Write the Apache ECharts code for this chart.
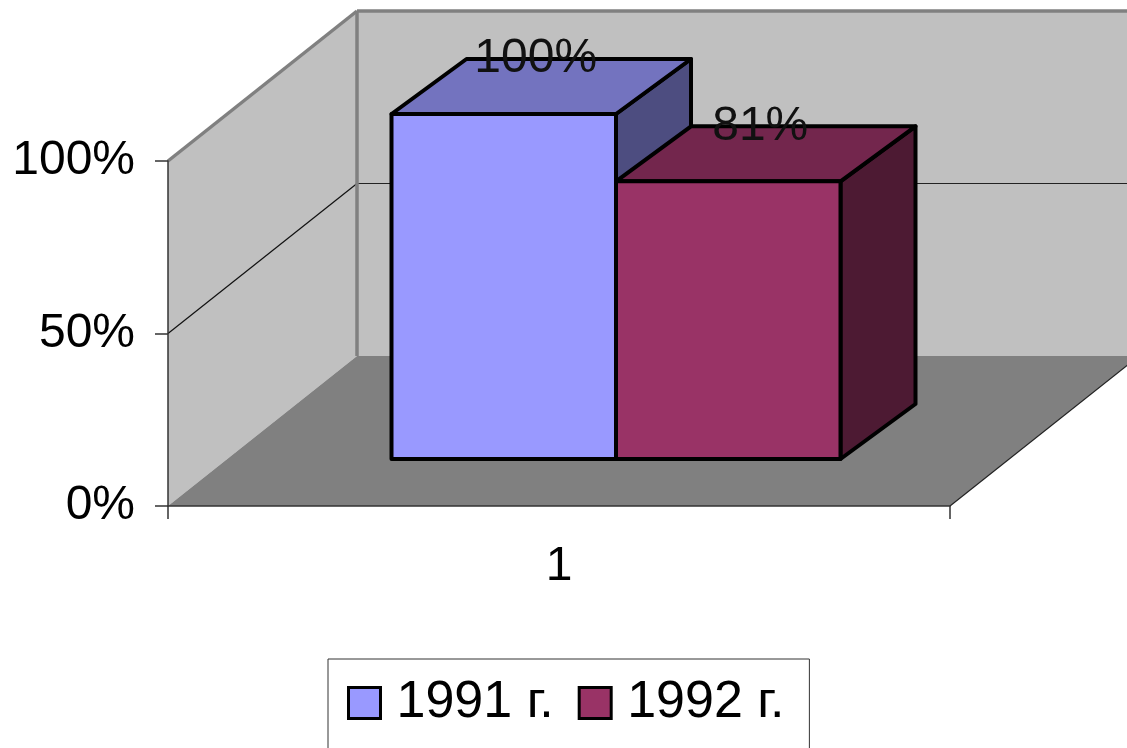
<!DOCTYPE html>
<html><head><meta charset="utf-8">
<style>html,body{margin:0;padding:0;background:#fff;overflow:hidden}#c{width:1127px;height:748px}</style>
<script src="https://cdn.jsdelivr.net/npm/echarts@6/dist/echarts.min.js"></script>
</head><body><div id="c"></div>
<script>
const categories = ['1'];
const seriesNames = ['1991 г.', '1992 г.'];
const values1991 = [100];
const values1992 = [80.5];
const yTicks = [0, 50, 100];

const FONT = '"Liberation Sans"';
const FS = 48;
const wallDepth = [189, -150];
const barDepth = [75, -55];
const barLift = [57, -47];
const barW = 224.5;
const pct = v => Math.round(v) + '%';

function poly(points, fill, stroke, lw, z2) {
  return {type:'polygon', shape:{points}, z2:z2||0,
    style:{fill, stroke:stroke||null, lineWidth:lw||0, lineJoin:'round'}};
}
function line(a, b, stroke, lw, z2) {
  return {type:'line', shape:{x1:a[0],y1:a[1],x2:b[0],y2:b[1]}, z2:z2||1, style:{stroke, lineWidth:lw}};
}
function renderWalls(params, api) {
  const cs = params.coordSys;
  const [dx, dy] = wallDepth;
  const L = cs.x, R = cs.x + cs.width;
  const y0 = api.coord([0, 0])[1], yT = api.coord([0, 100])[1];
  const children = [
    poly([[L+dx,yT+dy],[R+dx,yT+dy],[R+dx,y0+dy],[L+dx,y0+dy]], '#c0c0c0'),
    poly([[L,yT],[L+dx,yT+dy],[L+dx,y0+dy],[L,y0]], '#c0c0c0'),
    poly([[L,y0],[L+dx,y0+dy],[R+dx,y0+dy],[R,y0]], '#808080'),
    line([R,y0],[R+dx,y0+dy],'#222',1.2,1)
  ];
  yTicks.filter(t => t > 0 && t < 100).forEach(t => {
    const y = Math.round(api.coord([0, t])[1]) - 0.5;
    children.push(line([L,y],[L+dx,y+dy],'#111',1.2,1));
    children.push(line([L+dx,y+dy],[R+dx,y+dy],'#222',1.2,1));
  });
  children.push(line([L+dx,yT+dy],[L+dx,y0+dy],'#808080',3.5,2));
  children.push(line([L+dx,yT+dy],[R+dx,yT+dy],'#808080',3.5,2));
  children.push(line([L,yT],[L+dx,yT+dy],'#808080',3.5,2));
  return {type:'group', children};
}
function barRenderer(slot, front, top, side) {
  return function (params, api) {
    const base = api.coord([api.value(0), 0]);
    const head = api.coord([api.value(0), api.value(1)]);
    const [lx, ly] = barLift, [dx, dy] = barDepth;
    const x0 = base[0] + lx + (slot - 1) * barW, x1 = x0 + barW;
    const yb = base[1] + ly, yt = head[1] + ly;
    const S = '#000', W = 4;
    return {type:'group', children:[
      poly([[x1,yt],[x1+dx,yt+dy],[x1+dx,yb+dy],[x1,yb]], side, S, W, 1),
      poly([[x0,yt],[x0+dx,yt+dy],[x1+dx,yt+dy],[x1,yt]], top, S, W, 2),
      poly([[x0,yt],[x1,yt],[x1,yb],[x0,yb]], front, S, W, 3),
      {type:'text', z2:50, style:{x:(x0+x1)/2+32, y:yt-55, text:pct(api.value(1)),
        font:FS+'px '+FONT, fill:'#111', align:'center', verticalAlign:'middle'}}
    ]};
  };
}
const axisText = {fontFamily:FONT, fontSize:FS, color:'#000'};
const chart = echarts.init(document.getElementById('c'), null, {renderer:'canvas'});
chart.setOption({
  animation:false, backgroundColor:'#fff',
  grid:{left:168, top:161, width:782, height:345, containLabel:false},
  xAxis:{type:'category', data:categories, z:5,
    axisLine:{lineStyle:{color:'#333',width:1.5}},
    axisTick:{show:true, alignWithLabel:false, length:13, lineStyle:{color:'#333',width:1.5}},
    axisLabel:Object.assign({margin:37}, axisText), splitLine:{show:false}},
  yAxis:{type:'value', min:0, max:100, interval:50, z:5,
    axisLine:{show:true, lineStyle:{color:'#333',width:1.5}},
    axisTick:{show:true, length:13, lineStyle:{color:'#333',width:1.5}},
    axisLabel:Object.assign({margin:33, padding:[5,0,0,0], formatter:v=>v+'%'}, axisText),
    splitLine:{show:false}},
  legend:{left:328, top:659, orient:'horizontal', data:seriesNames,
    itemWidth:32, itemHeight:31, itemGap:24, padding:[18,25,42,19],
    borderColor:'#333', borderWidth:1, icon:'rect',
    itemStyle:{borderColor:'#000', borderWidth:3},
    textStyle:{fontFamily:FONT, fontSize:52, color:'#000', padding:[14,0,0,11]}},
  series:[
    {type:'custom', name:'walls', z:1, silent:true, data:[[0,0]], renderItem:renderWalls},
    {type:'custom', name:seriesNames[0], z:2, itemStyle:{color:'#9999ff'},
      data:categories.map((c,i)=>[i,values1991[i]]),
      renderItem:barRenderer(0,'#9999ff','#7373bf','#4d4d80')},
    {type:'custom', name:seriesNames[1], z:3, itemStyle:{color:'#993366'},
      data:categories.map((c,i)=>[i,values1992[i]]),
      renderItem:barRenderer(1,'#993366','#73264d','#4d1a33')}
  ]
});
</script></body></html>
